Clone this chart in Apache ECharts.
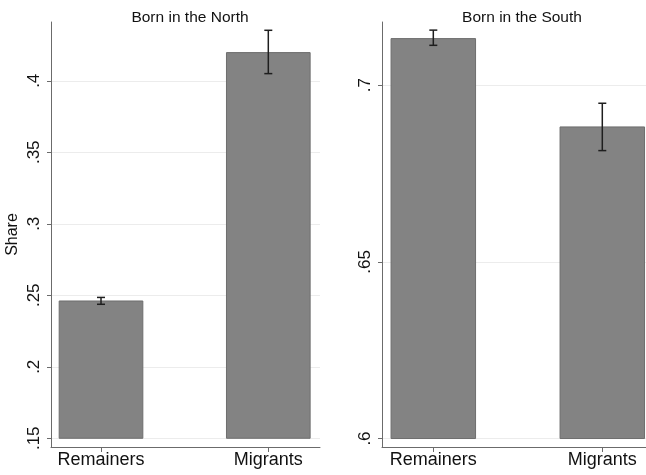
<!DOCTYPE html>
<html>
<head>
<meta charset="utf-8">
<script src="https://cdn.jsdelivr.net/npm/echarts@6/dist/echarts.min.js"></script>
<style>
html, body { margin: 0; padding: 0; background: #fff; }
#chart { width: 646px; height: 475px; }
</style>
</head>
<body>
<div id="chart"></div>
<script>
// groups on the x axis (positions 1 and 2)
var groups = ["Remainers", "Migrants"];
var groupPos = [1, 2];

// Born in the North
var northShare = [0.246, 0.4197];
var northLow = [0.2437, 0.4050];
var northHigh = [0.2485, 0.4353];
var northTicks = [0.15, 0.2, 0.25, 0.3, 0.35, 0.4];

// Born in the South
var southShare = [0.7132, 0.6882];
var southLow = [0.7113, 0.6815];
var southHigh = [0.7156, 0.6949];
var southTicks = [0.6, 0.65, 0.7];

var barFill = "#838383";
var barEdge = "#6e6e6e";
var axisColor = "#6b6b6b";
var font = "Liberation Sans, Arial, sans-serif";

// rows of [pos, value, low, high]
function rows(vals, lo, hi) {
    return groupPos.map(function (p, i) { return [p, vals[i], lo[i], hi[i]]; });
}

function tickText(v) {
    return String(+v.toFixed(2)).replace(/^0/, "");
}

// bar from the base tick up to the value
function barItem(base) {
    return function (params, api) {
        var x = api.value(0);
        var p0 = api.coord([x - 0.25, api.value(1)]);
        var p1 = api.coord([x + 0.25, base]);
        return {
            type: "rect",
            shape: { x: p0[0], y: p0[1], width: p1[0] - p0[0], height: p1[1] - p0[1] },
            style: { fill: barFill, stroke: barEdge, lineWidth: 1 }
        };
    };
}

// error bar with caps
function capItem(params, api) {
    var x = api.value(0);
    var top = api.coord([x, api.value(3)]);
    var bot = api.coord([x, api.value(2)]);
    var w = 4;
    var st = { stroke: "#1e1e1e", lineWidth: 1.5 };
    return {
        type: "group",
        children: [
            { type: "line", shape: { x1: top[0], y1: top[1], x2: bot[0], y2: bot[1] }, style: st },
            { type: "line", shape: { x1: top[0] - w, y1: top[1], x2: top[0] + w, y2: top[1] }, style: st },
            { type: "line", shape: { x1: bot[0] - w, y1: bot[1], x2: bot[0] + w, y2: bot[1] }, style: st }
        ]
    };
}

function xAxisFor(idx, min, max) {
    return {
        type: "value", gridIndex: idx, min: min, max: max,
        splitLine: { show: false },
        axisLine: { show: true, onZero: false, lineStyle: { color: axisColor } },
        axisTick: { show: true, length: 5, customValues: groupPos, lineStyle: { color: axisColor } },
        axisLabel: {
            customValues: groupPos, margin: 4, color: "#111", fontSize: 18, fontFamily: font,
            formatter: function (v) { return groups[groupPos.indexOf(Math.round(v))]; }
        }
    };
}

function yAxisFor(idx, min, max, ticks, name) {
    return {
        type: "value", gridIndex: idx, min: min, max: max,
        name: name, nameLocation: "middle", nameRotate: 90, nameGap: 30,
        nameTextStyle: { color: "#111", fontSize: 16, fontFamily: font },
        axisLine: { show: true, onZero: false, lineStyle: { color: axisColor } },
        axisTick: { show: true, length: 4, customValues: ticks, lineStyle: { color: axisColor } },
        axisLabel: {
            customValues: ticks, rotate: 90, margin: 8, color: "#111", fontSize: 17, fontFamily: font,
            formatter: tickText
        },
        splitLine: { show: true, lineStyle: { color: "#ececec", width: 1 } }
    };
}

var chart = echarts.init(document.getElementById("chart"));
chart.setOption({
    backgroundColor: "#fff",
    animation: false,
    title: [
        { text: "Born in the North", left: 185, top: 5, textAlign: "center",
          textStyle: { fontSize: 15.5, fontWeight: "normal", color: "#111", fontFamily: font } },
        { text: "Born in the South", left: 517, top: 5, textAlign: "center",
          textStyle: { fontSize: 15.5, fontWeight: "normal", color: "#111", fontFamily: font } }
    ],
    grid: [
        { left: 51, top: 22, width: 269, height: 425 },
        { left: 382, top: 22, width: 264, height: 425 }
    ],
    xAxis: [xAxisFor(0, 0.7011, 2.309), xAxisFor(1, 0.6964, 2.2586)],
    yAxis: [
        yAxisFor(0, 0.1439, 0.4411, northTicks, "Share"),
        yAxisFor(1, 0.5976, 0.7179, southTicks, "")
    ],
    series: [
        { type: "custom", xAxisIndex: 0, yAxisIndex: 0, renderItem: barItem(northTicks[0]),
          data: rows(northShare, northLow, northHigh), encode: { x: 0, y: 1 } },
        { type: "custom", xAxisIndex: 0, yAxisIndex: 0, renderItem: capItem, z: 3,
          data: rows(northShare, northLow, northHigh), encode: { x: 0, y: [2, 3] } },
        { type: "custom", xAxisIndex: 1, yAxisIndex: 1, renderItem: barItem(southTicks[0]),
          data: rows(southShare, southLow, southHigh), encode: { x: 0, y: 1 } },
        { type: "custom", xAxisIndex: 1, yAxisIndex: 1, renderItem: capItem, z: 3,
          data: rows(southShare, southLow, southHigh), encode: { x: 0, y: [2, 3] } }
    ]
});
</script>
</body>
</html>
